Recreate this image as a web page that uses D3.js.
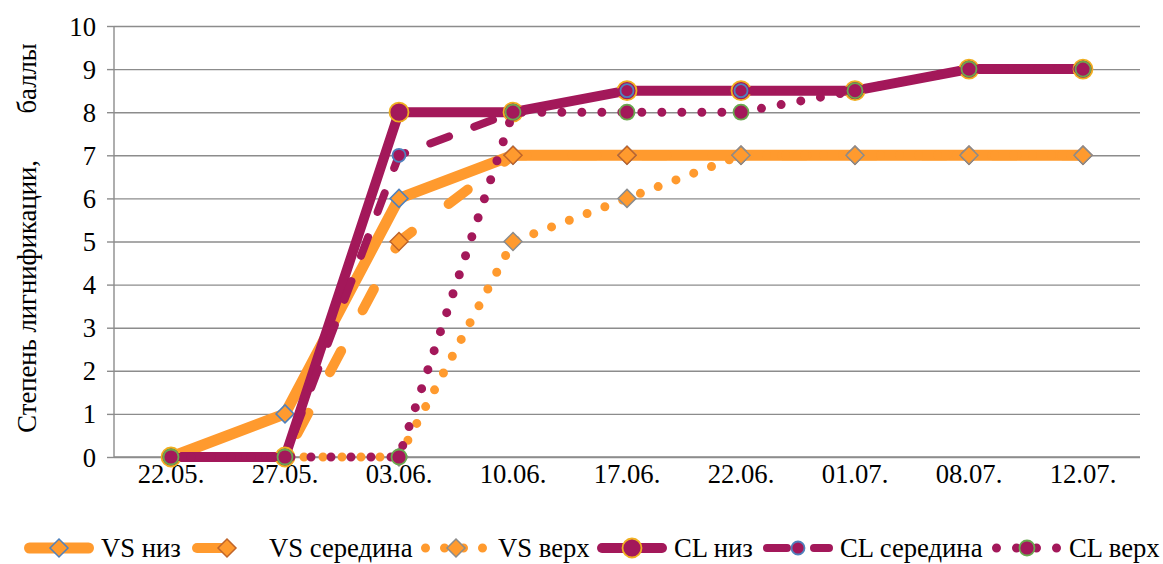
<!DOCTYPE html>
<html>
<head>
<meta charset="utf-8">
<script src="https://cdn.jsdelivr.net/npm/d3@7"></script>
<style>
  body { margin: 0; background: #fff; }
  svg { display: block; }
  svg text { fill: #000; }
</style>
</head>
<body>
<svg id="chart" width="1163" height="564"></svg>
<script>
// ---- data ----
const categories = ["22.05.", "27.05.", "03.06.", "10.06.", "17.06.", "22.06.", "01.07.", "08.07.", "12.07."];
const vsNiz    = [0, 1, 6, 7, 7, 7, 7, 7, 7];
const vsSered  = [0, 0, 5, 7, 7, 7, 7, 7, 7];
const vsVerh   = [0, 0, 0, 5, 6, 7, 7, 7, 7];
const clNiz    = [0, 0, 8, 8, 8.5, 8.5, 8.5, 9, 9];
const clSered  = [0, 0, 7, 8, 8.5, 8.5, 8.5, 9, 9];
const clVerh   = [0, 0, 0, 8, 8, 8, 8.5, 9, 9];
const seriesNames = ["VS низ", "VS середина", "VS верх", "CL низ", "CL середина", "CL верх"];
const yTicks = [0, 1, 2, 3, 4, 5, 6, 7, 8, 9, 10];
const yTitle = "Степень лигнификации,       баллы";

// ---- styles ----
const ORANGE = "#FF9A2E", MAGENTA = "#A3185A";
const FONT = "'Liberation Serif', 'Times New Roman', serif";
const FS = 26.67;
const styles = [
  { color: ORANGE,  width: 11, dash: null,     marker: "diamond", mr: 9,   mfill: ORANGE,  mstroke: "#4F81BD" },
  { color: ORANGE,  width: 10, dash: "24,46",  marker: "diamond", mr: 9,   mfill: ORANGE,  mstroke: "#C0652A" },
  { color: ORANGE,  width: 9,  dash: "0,19",   marker: "diamond", mr: 9,   mfill: ORANGE,  mstroke: "#8C8C8C" },
  { color: MAGENTA, width: 10, dash: null,     marker: "circle",  mr: 9.5, mfill: MAGENTA, mstroke: "#F0B020" },
  { color: MAGENTA, width: 8,  dash: "20,27",  marker: "circle",  mr: 6.5, mfill: MAGENTA, mstroke: "#4F81BD" },
  { color: MAGENTA, width: 9,  dash: "0,20",   marker: "circle",  mr: 7.5, mfill: MAGENTA, mstroke: "#6AA84F" }
];
const series = [vsNiz, vsSered, vsVerh, clNiz, clSered, clVerh].map((v, i) => ({ name: seriesNames[i], values: v, style: styles[i] }));

const svg = d3.select("#chart");
const L = 114, R = 1140, T = 26, B = 457;

const x = d3.scaleBand().domain(categories).range([L, R]).padding(0);
const cx = c => x(c) + x.bandwidth() / 2;
const y = d3.scaleLinear().domain([0, 10]).range([B, T]);

// gridlines
svg.append("g")
  .attr("transform", `translate(${L},0)`)
  .call(d3.axisLeft(y).tickValues(yTicks).tickSize(-(R - L)).tickFormat(""))
  .call(g => g.select(".domain").remove())
  .call(g => g.selectAll("line").attr("stroke", "#8C8C8C").attr("stroke-width", 1.4));

// y axis with ticks and labels
svg.append("g")
  .attr("transform", `translate(${L},0)`)
  .call(d3.axisLeft(y).tickValues(yTicks).tickSize(7).tickPadding(11).tickFormat(d3.format("d")))
  .attr("font-family", FONT).attr("font-size", FS)
  .call(g => g.select(".domain").attr("stroke", "#8C8C8C").attr("stroke-width", 1.4).attr("d", `M0,${T}V${B}`))
  .call(g => g.selectAll("line").attr("stroke", "#8C8C8C").attr("stroke-width", 1.4))
  .call(g => g.selectAll("text").attr("fill", "#000").attr("dy", "0.34em"));

// x axis
svg.append("g")
  .attr("transform", `translate(0,${B})`)
  .call(d3.axisBottom(x).tickSize(0).tickPadding(7))
  .attr("font-family", FONT).attr("font-size", FS)
  .call(g => g.select(".domain").attr("stroke", "#8C8C8C").attr("stroke-width", 1.4).attr("d", `M${L},0H${R}`))
  .call(g => g.selectAll("text").attr("fill", "#000"));

// y title
svg.append("text")
  .attr("transform", `translate(36,238) rotate(-90)`)
  .attr("text-anchor", "middle")
  .attr("font-family", FONT)
  .attr("font-size", FS)
  .style("white-space", "pre")
  .text(yTitle);

function drawMarker(g, s, px, py) {
  if (s.marker === "diamond") {
    const r = s.mr;
    g.append("path")
      .attr("d", `M${px},${py - r}L${px + r},${py}L${px},${py + r}L${px - r},${py}Z`)
      .attr("fill", s.mfill).attr("stroke", s.mstroke).attr("stroke-width", 1.5);
  } else {
    g.append("circle").attr("cx", px).attr("cy", py).attr("r", s.mr)
      .attr("fill", s.mfill).attr("stroke", s.mstroke).attr("stroke-width", 1.8);
  }
}

const line = d3.line().x((d, i) => cx(categories[i])).y(d => y(d));

series.forEach(ser => {
  const s = ser.style;
  const g = svg.append("g");
  g.append("path")
    .attr("d", line(ser.values))
    .attr("fill", "none")
    .attr("stroke", s.color)
    .attr("stroke-width", s.width)
    .attr("stroke-linecap", "round")
    .attr("stroke-linejoin", "round")
    .attr("stroke-dasharray", s.dash);
  ser.values.forEach((v, i) => drawMarker(g, s, cx(categories[i]), y(v)));
});

// legend
const legendMarkerX = [59, 227, 456, 632, 798, 1027];
const legendY = 548;
const half = 35;
series.forEach((ser, i) => {
  const s = ser.style;
  const g = svg.append("g");
  const mx = legendMarkerX[i];
  g.append("line")
    .attr("x1", mx - half + s.width / 2).attr("x2", mx + half - s.width / 2)
    .attr("y1", legendY).attr("y2", legendY)
    .attr("stroke", s.color).attr("stroke-width", s.width)
    .attr("stroke-linecap", "round")
    .attr("stroke-dasharray", s.dash);
  drawMarker(g, s, mx, legendY);
  g.append("text")
    .attr("x", mx + 42).attr("y", legendY + 9)
    .attr("font-family", FONT)
    .attr("font-size", FS)
    .text(ser.name);
});
</script>
</body>
</html>
